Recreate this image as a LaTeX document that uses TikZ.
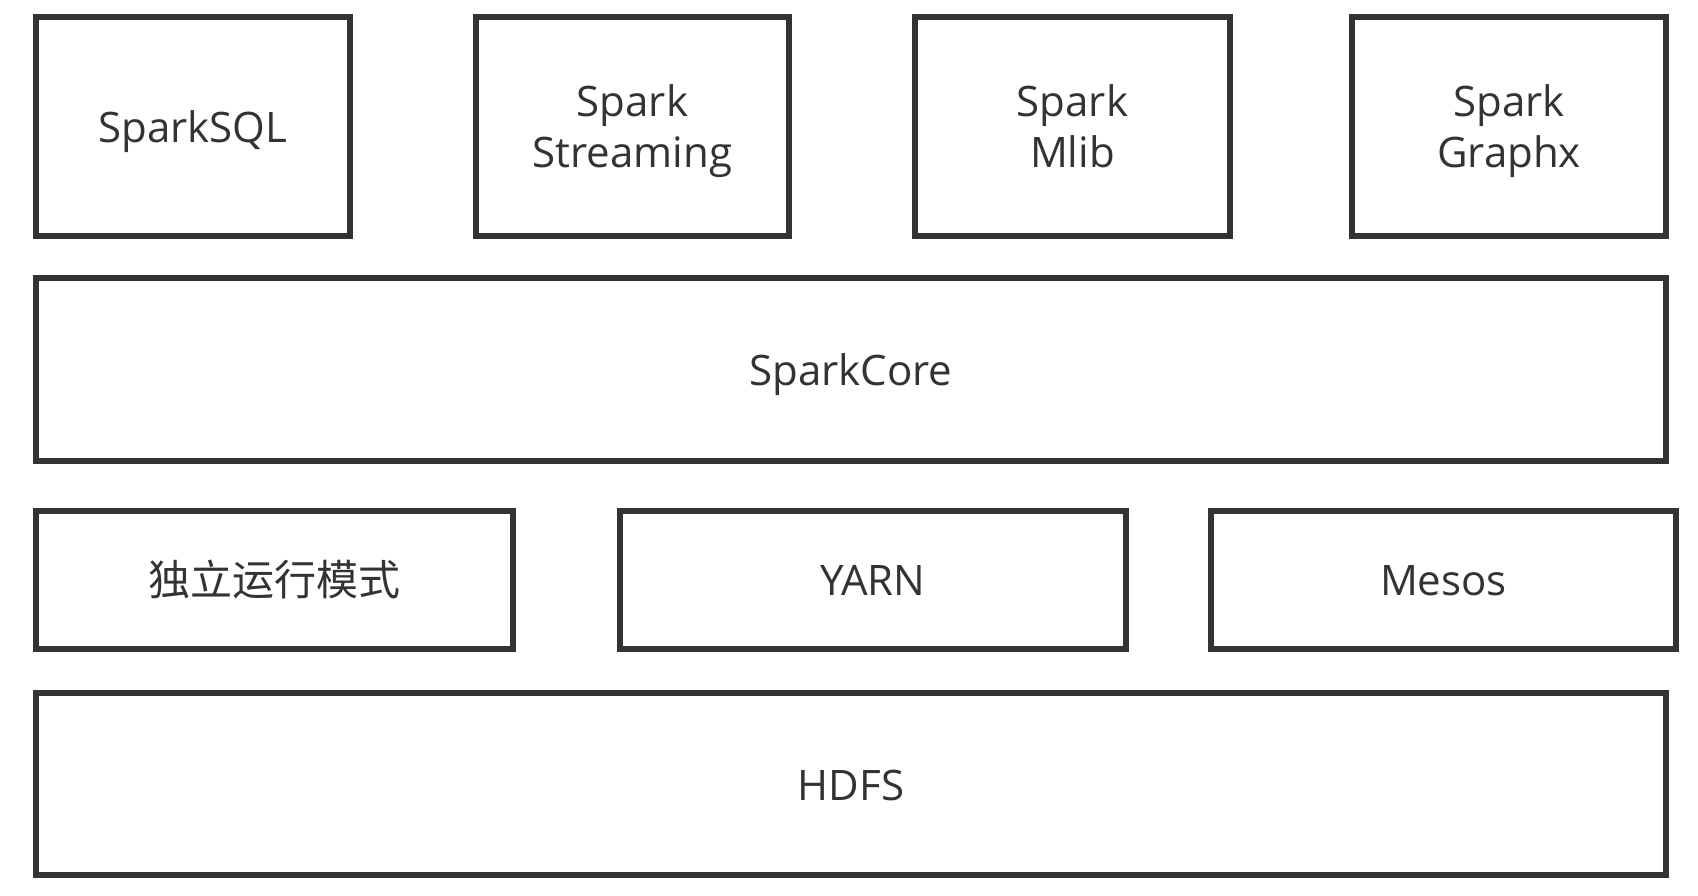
\documentclass[tikz,border=0pt]{standalone}
\usepackage{fontspec}
\setmainfont{Open Sans}
\newfontfamily\cjk{Noto Sans CJK SC}
\definecolor{linegray}{HTML}{333333}
\begin{document}
\begin{tikzpicture}[x=1pt,y=-1pt,
  layerbox/.style={draw=linegray, line width=6pt, text=linegray,
    font=\fontsize{42}{51}\selectfont, align=center, inner sep=0pt,
    rectangle, text height=32pt, text depth=0pt},
  twoline/.style={text height=82.5pt, text depth=0pt}]
\useasboundingbox[fill=white] (0,0) rectangle (1698,896);
% top row
\node[layerbox, minimum width=314pt, minimum height=219.5pt] (sql) at (193,126.75) {SparkSQL};
\node[layerbox, twoline, minimum width=313pt, minimum height=219.5pt] (stream) at (632.5,126.75) {Spark\\Streaming};
\node[layerbox, twoline, minimum width=315pt, minimum height=219.5pt] (mlib) at (1072.5,126.75) {Spark\\Mlib};
\node[layerbox, twoline, minimum width=314pt, minimum height=219.5pt] (graphx) at (1509,126.75) {Spark\\Graphx};
% core
\node[layerbox, minimum width=1630pt, minimum height=182pt] (core) at (851,369.5) {SparkCore};
% cluster managers
\node[layerbox, minimum width=477pt, minimum height=137.5pt] (standalone) at (274.5,579.75) {\cjk 独立运行模式};
\node[layerbox, minimum width=506pt, minimum height=137.5pt] (yarn) at (873,579.75) {YARN};
\node[layerbox, minimum width=465pt, minimum height=137.5pt] (mesos) at (1443.5,579.75) {Mesos};
% storage
\node[layerbox, minimum width=1630pt, minimum height=182pt] (hdfs) at (851,784) {HDFS};
\end{tikzpicture}
\end{document}
